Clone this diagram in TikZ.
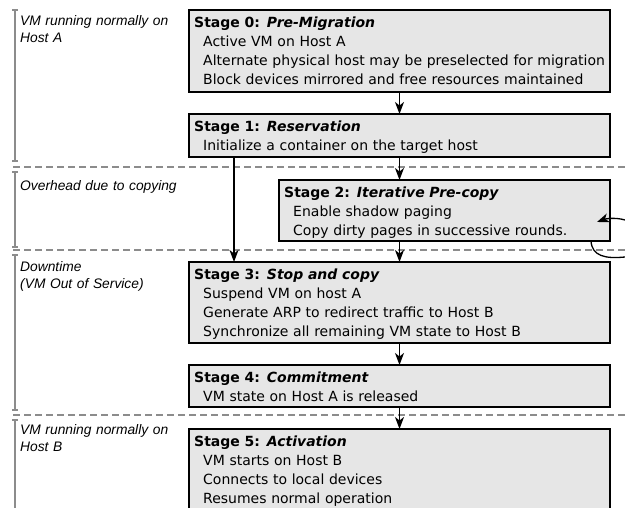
\documentclass[tikz,border=0pt]{standalone}
\usepackage{fontspec}
\usetikzlibrary{arrows.meta,calc}
\newfontfamily\boxfam{DejaVu Sans}
\newfontfamily\sidefam{Liberation Sans}
\definecolor{boxgray}{RGB}{230,230,230}
\definecolor{sepgray}{RGB}{140,140,140}
\newcommand\myind{\hspace*{9pt}}
\tikzset{
  stagebox/.style={draw=black, line width=1.4pt, fill=boxgray, anchor=north west, inner sep=0pt, outer sep=0pt},
  stagetext/.style={anchor=base west, text width=430pt, align=left, inner sep=0pt, font=\boxfam\fontsize{14}{19}\selectfont},
  sidetext/.style={anchor=base west, text width=175pt, align=left, inner sep=0pt, font=\sidefam\itshape\fontsize{13.8}{17}\selectfont},
  arr/.style={-{Stealth[length=12pt,width=9pt,inset=3.5pt]}, line width=1.3pt},
  sepline/.style={draw=sepgray, dash pattern=on 7pt off 4pt, line width=1.3pt},
  brack/.style={draw=sepgray, line width=1.3pt}
}
\begin{document}
\begin{tikzpicture}[x=1pt,y=-1pt]
\useasboundingbox (0,0) rectangle (625,508);
% separators
\draw[sepline] (13,167) -- (640,167);
\draw[sepline] (13,250) -- (640,250);
\draw[sepline] (13,415) -- (640,415);
% brackets
\draw[brack] (12,10) -- (18,10) (15,10) -- (15,161) (12,161) -- (18,161);
\draw[brack] (12,172) -- (18,172) (15,172) -- (15,247) (12,247) -- (18,247);
\draw[brack] (12,255) -- (18,255) (15,255) -- (15,410) (12,410) -- (18,410);
\draw[brack] (12,420) -- (18,420) (15,420) -- (15,515);
% side labels
\node[sidetext] (l0) at (20,26) {VM running normally on\\Host A};
\node[sidetext] (l1) at (20,191) {Overhead due to copying};
\node[sidetext] (l2) at (20,272) {Downtime\\(VM Out of Service)};
\node[sidetext] (l3) at (20,435) {VM running normally on\\Host B};
% boxes
\node[stagebox, minimum width=421pt, minimum height=82pt] (s0) at (189,10) {};
\node[stagebox, minimum width=421pt, minimum height=43pt] (s1) at (189,114) {};
\node[stagebox, minimum width=331pt, minimum height=61pt] (s2) at (279,180) {};
\node[stagebox, minimum width=421pt, minimum height=81pt] (s3) at (189,262) {};
\node[stagebox, minimum width=421pt, minimum height=42pt] (s4) at (189,365) {};
\node[stagebox, minimum width=421pt, minimum height=90pt] (s5) at (189,429) {};
% box texts
\node[stagetext] (t0) at ($(s0.north west)+(5,17.5)$) {\textbf{Stage 0: \textit{Pre-Migration}}\\
\myind Active VM on Host A\\
\myind Alternate physical host may be preselected for migration\\
\myind Block devices mirrored and free resources maintained};
\node[stagetext] (t1) at ($(s1.north west)+(5,17.5)$) {\textbf{Stage 1: \textit{Reservation}}\\
\myind Initialize a container on the target host};
\node[stagetext] (t2) at ($(s2.north west)+(5,17.5)$) {\textbf{Stage 2: \textit{Iterative Pre-copy}}\\
\myind Enable shadow paging\\
\myind Copy dirty pages in successive rounds.};
\node[stagetext] (t3) at ($(s3.north west)+(5,17.5)$) {\textbf{Stage 3: \textit{Stop and copy}}\\
\myind Suspend VM on host A\\
\myind Generate ARP to redirect traffic to Host B\\
\myind Synchronize all remaining VM state to Host B};
\node[stagetext] (t4) at ($(s4.north west)+(5,17.5)$) {\textbf{Stage 4: \textit{Commitment}}\\
\myind VM state on Host A is released};
\node[stagetext] (t5) at ($(s5.north west)+(5,17.5)$) {\textbf{Stage 5: \textit{Activation}}\\
\myind VM starts on Host B\\
\myind Connects to local devices\\
\myind Resumes normal operation};
% arrows
\draw[arr] (s0.south) -- (s1.north);
\draw[arr] (s1.south) -- (s1.south |- s2.north);
\draw[arr] (s1.south |- s2.south) -- (s3.north);
\draw[arr] ($(s1.south west)+(45,0)$) -- ($(s3.north west)+(45,0)$);
\draw[arr] (s3.south) -- (s4.north);
\draw[arr] (s4.south) -- (s5.north);
\draw[arr] ($(s2.south east)+(-19,0)$) .. controls ($(s2.south east)+(-18,15)$) and ($(s2.south east)+(-5,18)$) .. ($(s2.south east)+(15,16)$)
  .. controls ($(s2.south east)+(30,14)$) and ($(s2.south east)+(32,-15)$) .. ($(s2.south east)+(15,-21)$)
  .. controls ($(s2.south east)+(5,-24)$) and ($(s2.south east)+(-5,-22)$) .. ($(s2.south east)+(-13,-19)$);
\end{tikzpicture}
\end{document}
